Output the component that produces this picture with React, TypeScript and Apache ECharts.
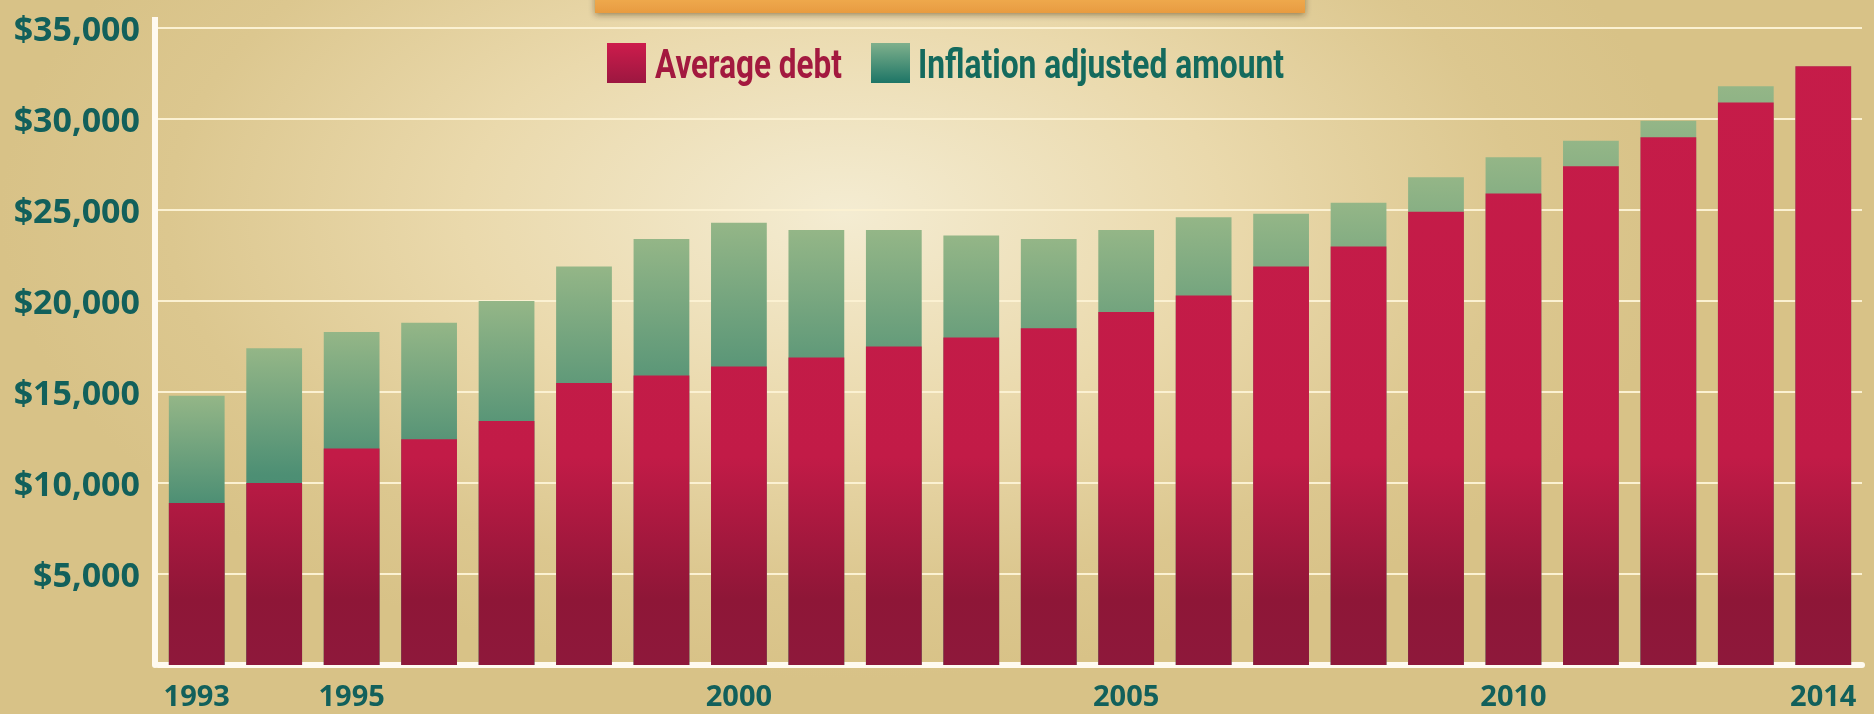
import React, { useEffect, useRef } from "react";
import * as echarts from "echarts";

const years = [
  "1993", "1994", "1995", "1996", "1997", "1998", "1999", "2000", "2001", "2002", "2003",
  "2004", "2005", "2006", "2007", "2008", "2009", "2010", "2011", "2012", "2013", "2014",
];
const labeledYears = ["1993", "1995", "2000", "2005", "2010", "2014"];
const averageDebt = [
  8900, 10000, 11900, 12400, 13400, 15500, 15900, 16400, 16900, 17500, 18000,
  18500, 19400, 20300, 21900, 23000, 24900, 25900, 27400, 29000, 30900, 32900,
];
const inflationAdjusted = [
  14800, 17400, 18300, 18800, 20000, 21900, 23400, 24300, 23900, 23900, 23600,
  23400, 23900, 24600, 24800, 25400, 26800, 27900, 28800, 29900, 31800, 32900,
];
const seriesNames = ["Average debt", "Inflation adjusted amount"];

const LEGEND_FONT = "bold 41px Roboto, 'Noto Sans', sans-serif";

function measure(text: string, font: string): number {
  const ctx = document.createElement("canvas").getContext("2d");
  if (!ctx) return text.length * 20;
  ctx.font = font;
  return ctx.measureText(text).width || text.length * 20;
}

export default function App() {
  const ref = useRef<HTMLDivElement>(null);
  useEffect(() => {
    if (!ref.current) return;
    const chart = echarts.init(ref.current, undefined, { renderer: "svg" });
    const teal = "#12605b";
    const redFill = {
      type: "linear", x: 0, y: 0, x2: 0, y2: 714, global: true,
      colorStops: [
        { offset: 0, color: "#c61c49" },
        { offset: 0.64, color: "#c21b47" },
        { offset: 0.84, color: "#8e1637" },
        { offset: 1, color: "#8e1a3e" },
      ],
    };
    const greenFill = {
      type: "linear", x: 0, y: 0, x2: 0, y2: 1,
      colorStops: [
        { offset: 0, color: "#94b687" },
        { offset: 0.4, color: "#4d8f74" },
        { offset: 1, color: "#3e8870" },
      ],
    };
    const legendText = (text: string, x: number, width: number, color: string) => {
      const w = measure(text, LEGEND_FONT);
      return {
        type: "text",
        x,
        y: 64,
        scaleX: width / w,
        z: 11,
        style: {
          text,
          font: LEGEND_FONT,
          fill: color,
          align: "left",
          verticalAlign: "middle",
        },
      };
    };
    chart.setOption({
      animation: false,
      backgroundColor: "transparent",
      graphic: [
        {
          type: "rect",
          shape: { x: 595, y: -12, width: 710, height: 25 },
          style: {
            fill: {
              type: "linear", x: 0, y: 0, x2: 0, y2: 1,
              colorStops: [
                { offset: 0, color: "#f4b458" },
                { offset: 1, color: "#e89b40" },
              ],
            },
            shadowBlur: 6,
            shadowOffsetY: 2,
            shadowColor: "rgba(60,40,0,0.45)",
          },
          z: 10,
        },
        {
          type: "rect",
          shape: { x: 607, y: 43, width: 39, height: 40 },
          style: {
            fill: {
              type: "linear", x: 0, y: 0, x2: 0, y2: 1,
              colorStops: [
                { offset: 0, color: "#cd1c4c" },
                { offset: 1, color: "#9c1740" },
              ],
            },
          },
          z: 11,
        },
        legendText(seriesNames[0], 655, 187, "#a3193f"),
        {
          type: "rect",
          shape: { x: 871, y: 43, width: 39, height: 40 },
          style: {
            fill: {
              type: "linear", x: 0, y: 0, x2: 0, y2: 1,
              colorStops: [
                { offset: 0, color: "#7fb08c" },
                { offset: 1, color: "#1d7566" },
              ],
            },
          },
          z: 11,
        },
        legendText(seriesNames[1], 918, 366, "#146a5d"),
        {
          type: "line",
          shape: { x1: 155, y1: 17, x2: 155, y2: 30 },
          style: { stroke: "#fffaf0", lineWidth: 6 },
          z: 1,
        },
      ],
      grid: { left: 158, right: 12, top: 28, bottom: 49, containLabel: false },
      xAxis: {
        type: "category",
        data: years,
        offset: 3,
        axisLine: { show: true, lineStyle: { color: "#fffaf0", width: 6 } },
        axisTick: { show: false },
        axisLabel: {
          interval: 0,
          margin: 11,
          color: teal,
          fontFamily: "'Open Sans', sans-serif",
          fontWeight: "bold",
          fontSize: 29,
          lineHeight: 30,
          formatter: (v: string) => (labeledYears.includes(v) ? v : ""),
        },
      },
      yAxis: {
        type: "value",
        min: 0,
        max: 35000,
        interval: 5000,
        offset: 3,
        axisLine: { show: true, lineStyle: { color: "#fffaf0", width: 6 } },
        axisTick: { show: false },
        splitLine: { show: true, lineStyle: { color: "#fbf1d2", width: 2 } },
        axisLabel: {
          margin: 15,
          color: teal,
          fontFamily: "'Open Sans', sans-serif",
          fontWeight: "bold",
          fontSize: 34,
          formatter: (v: number) => (v === 0 ? "" : "$" + v.toLocaleString("en-US")),
        },
      },
      series: [
        {
          name: seriesNames[1],
          type: "bar",
          data: inflationAdjusted,
          barCategoryGap: "28%",
          barGap: "-100%",
          itemStyle: { color: greenFill },
          z: 2,
        },
        {
          name: seriesNames[0],
          type: "bar",
          data: averageDebt,
          barCategoryGap: "28%",
          barGap: "-100%",
          itemStyle: { color: redFill },
          z: 3,
        },
      ],
    });
    return () => chart.dispose();
  }, []);
  return (
    <div
      style={{
        position: "fixed",
        left: 0,
        top: 0,
        width: 1874,
        height: 714,
        background:
          "radial-gradient(ellipse 45% 65% at 45% 30%, #f4ecd2 0%, #ead9ac 45%, #dcc78f 80%, #d8c287 100%)",
      }}
    >
      <div ref={ref} style={{ width: 1874, height: 714 }} />
    </div>
  );
}
